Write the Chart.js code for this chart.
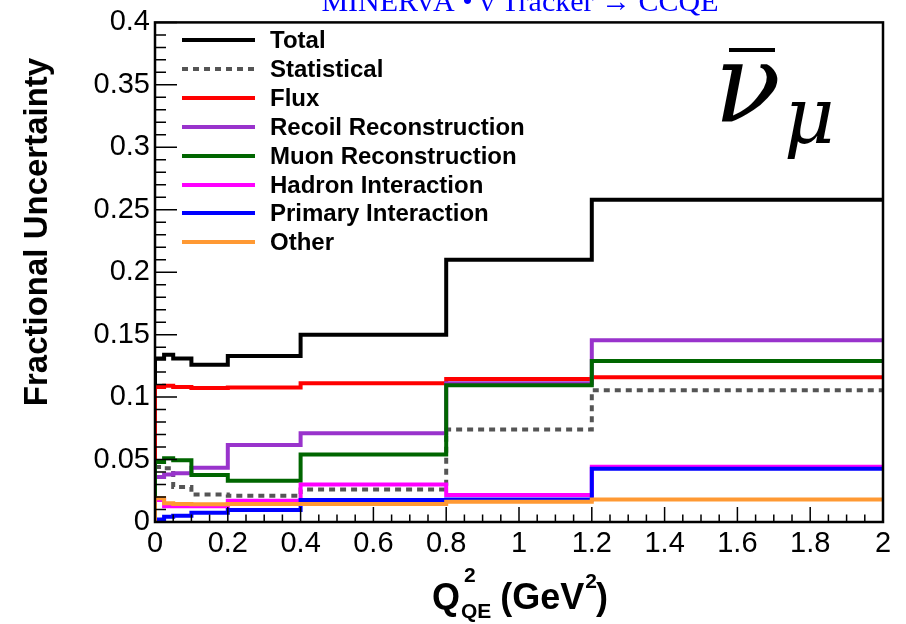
<!DOCTYPE html>
<html>
<head>
<meta charset="utf-8">
<title>Fractional uncertainty vs Q2</title>
<script src="https://cdn.jsdelivr.net/npm/chart.js@4.4.0/dist/chart.umd.min.js"></script>
<style>
  html, body { margin: 0; padding: 0; background: #fff; }
  #wrap { width: 906px; height: 624px; }
</style>
</head>
<body>
<div id="wrap"><canvas id="chart" width="906" height="624"></canvas></div>
<script>
// Q2 bin edges (GeV^2)
const binEdges = [0, 0.025, 0.05, 0.1, 0.2, 0.4, 0.8, 1.2, 2.0];

// fractional uncertainty in each Q2 bin
const totalErr   = [0.131, 0.134, 0.131, 0.126, 0.133, 0.150, 0.210, 0.258];
const statErr    = [0.044, 0.043, 0.028, 0.022, 0.021, 0.026, 0.074, 0.1055];
const fluxErr    = [0.108, 0.109, 0.108, 0.1073, 0.1077, 0.111, 0.1145, 0.1158];
const recoilErr  = [0.036, 0.038, 0.039, 0.0435, 0.0616, 0.071, 0.111, 0.1456];
const muonErr    = [0.048, 0.051, 0.0495, 0.0376, 0.033, 0.054, 0.1095, 0.129];
const hadronErr  = [0.0176, 0.0126, 0.0126, 0.0126, 0.017, 0.030, 0.0216, 0.0443];
const primaryErr = [0.002, 0.0043, 0.005, 0.0075, 0.0096, 0.0176, 0.018, 0.0427];
const otherErr   = [0.019, 0.015, 0.0145, 0.0142, 0.0144, 0.0144, 0.0163, 0.0181];

const seriesNames = ['Total', 'Statistical', 'Flux', 'Recoil Reconstruction',
  'Muon Reconstruction', 'Hadron Interaction', 'Primary Interaction', 'Other'];
const seriesValues = [totalErr, statErr, fluxErr, recoilErr, muonErr, hadronErr, primaryErr, otherErr];
const seriesColors = ['#000000', '#555555', '#ff0000', '#9933cc', '#006600', '#ff00ff', '#0000ff', '#ff9933'];

const SANS = '"Liberation Sans", Arial, sans-serif';

// histogram outline: starts from zero at the first edge, one point per bin low edge
function stepPoints(vals) {
  const pts = [{x: binEdges[0], y: 0}];
  vals.forEach((v, i) => pts.push({x: binEdges[i], y: v}));
  pts.push({x: binEdges[binEdges.length - 1], y: vals[vals.length - 1]});
  return pts;
}

const datasets = seriesNames.map((name, i) => ({
  label: name,
  data: stepPoints(seriesValues[i]),
  borderColor: seriesColors[i],
  borderWidth: 4,
  borderDash: name === 'Statistical' ? [6, 5] : [],
  stepped: 'before',
  pointRadius: 0,
  fill: false,
  order: -i
}));

// frame with inward ticks, like a ROOT canvas
const frameTicks = {
  id: 'frameTicks',
  afterDatasetsDraw(chart) {
    const {ctx, chartArea: a, scales: {x, y}} = chart;
    ctx.save();
    ctx.strokeStyle = '#000';
    ctx.lineWidth = 1.5;
    ctx.beginPath();
    for (let i = 0; i <= 40; i++) {
      const px = x.getPixelForValue(i * 0.05);
      const len = i % 4 === 0 ? 15 : 7.5;
      ctx.moveTo(px, a.bottom);
      ctx.lineTo(px, a.bottom - len);
    }
    for (let i = 0; i <= 40; i++) {
      const py = y.getPixelForValue(i * 0.01);
      const len = i % 5 === 0 ? 22 : 11;
      ctx.moveTo(a.left, py);
      ctx.lineTo(a.left + len, py);
    }
    ctx.stroke();
    ctx.lineWidth = 2.5;
    ctx.strokeRect(a.left, a.top, a.right - a.left, a.bottom - a.top);
    ctx.restore();
  }
};

// legend without a box, line sample then bold label
const lineLegend = {
  id: 'lineLegend',
  afterDraw(chart) {
    const ctx = chart.ctx;
    const rowY = [40, 69, 98, 127, 156, 185, 213, 242];
    ctx.save();
    ctx.font = 'bold 24px ' + SANS;
    ctx.textBaseline = 'middle';
    chart.data.datasets.forEach((ds, i) => {
      const yy = rowY[i];
      ctx.strokeStyle = ds.borderColor;
      ctx.lineWidth = 4;
      ctx.setLineDash(ds.borderDash);
      ctx.beginPath();
      ctx.moveTo(182, yy);
      ctx.lineTo(255, yy);
      ctx.stroke();
      ctx.setLineDash([]);
      ctx.fillStyle = '#000';
      ctx.fillText(ds.label, 270, yy + 1);
    });
    ctx.restore();
  }
};

// titles and annotations drawn straight on the canvas
const labels = {
  id: 'labels',
  afterDraw(chart) {
    const ctx = chart.ctx;
    ctx.save();
    ctx.fillStyle = '#0000ff';
    ctx.font = '30px "Liberation Serif", "Times New Roman", serif';
    ctx.textAlign = 'center';
    ctx.textBaseline = 'alphabetic';
    ctx.fillText('MINERvA \u2022 \u03bd Tracker \u2192 CCQE', 520, 11);

    // y axis title
    ctx.fillStyle = '#000';
    ctx.font = 'bold 33px ' + SANS;
    ctx.translate(47, 232);
    ctx.rotate(-Math.PI / 2);
    ctx.fillText('Fractional Uncertainty', 0, 0);
    ctx.setTransform(1, 0, 0, 1, 0, 0);

    // x axis title: Q^2_QE (GeV^2)
    ctx.textAlign = 'left';
    let xx = 432;
    ctx.font = 'bold 36px ' + SANS;
    ctx.fillText('Q', xx, 609);
    xx += ctx.measureText('Q').width + 1;
    ctx.font = 'bold 21px ' + SANS;
    ctx.fillText('2', xx + 3, 582);
    ctx.fillText('QE', xx, 618);
    xx += ctx.measureText('QE').width + 9;
    ctx.font = 'bold 36px ' + SANS;
    ctx.fillText('(GeV', xx, 609);
    xx += ctx.measureText('(GeV').width + 1;
    ctx.font = 'bold 21px ' + SANS;
    ctx.fillText('2', xx, 588);
    xx += ctx.measureText('2').width - 1;
    ctx.font = 'bold 36px ' + SANS;
    ctx.fillText(')', xx, 609);

    // anti muon neutrino symbol
    ctx.font = 'italic 110px "DejaVu Serif", "Liberation Serif", serif';
    ctx.fillText('\u03bd', 714, 122);
    ctx.font = 'italic 78px "DejaVu Serif", "Liberation Serif", serif';
    ctx.fillText('\u03bc', 784, 143);
    ctx.fillRect(729, 48, 46, 4);
    ctx.restore();
  }
};

new Chart(document.getElementById('chart'), {
  type: 'line',
  data: {datasets},
  options: {
    responsive: false,
    animation: false,
    devicePixelRatio: 1,
    layout: {padding: {left: 0, right: 23, top: 22, bottom: 0}},
    plugins: {legend: {display: false}, tooltip: {enabled: false}},
    scales: {
      x: {
        type: 'linear',
        min: 0, max: 2,
        grid: {display: false, drawTicks: false},
        border: {display: false},
        ticks: {
          stepSize: 0.2,
          padding: 5,
          color: '#000',
          maxRotation: 0,
          font: {family: SANS, size: 29},
          callback: v => String(+v.toFixed(1))
        },
        afterFit: s => { s.height = 102; }
      },
      y: {
        type: 'linear',
        min: 0, max: 0.4,
        grid: {display: false, drawTicks: false},
        border: {display: false},
        ticks: {
          stepSize: 0.05,
          padding: 5,
          color: '#000',
          font: {family: SANS, size: 29},
          callback: v => String(+v.toFixed(2))
        },
        afterFit: s => { s.width = 155; }
      }
    }
  },
  plugins: [frameTicks, lineLegend, labels]
});
</script>
</body>
</html>
